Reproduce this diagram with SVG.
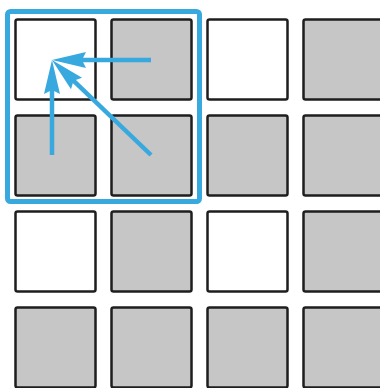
<svg xmlns="http://www.w3.org/2000/svg" width="380" height="388" viewBox="0 0 380 388">
<style>
.sq{stroke:#1e1e1e;stroke-width:2.5}
.w{fill:#ffffff}
.g{fill:#c6c6c6}
.frame{fill:none;stroke:#38a9df;stroke-width:5}
.arr{stroke:#38a9df;stroke-width:4.5;fill:none}
</style>
<defs>
<marker id="ah" markerUnits="userSpaceOnUse" markerWidth="40" markerHeight="20" refX="14" refY="0" orient="auto" overflow="visible">
<path d="M34,0 L0,-8 L4,0 L0,8 Z" fill="#38a9df"/>
</marker>
</defs>
<rect width="380" height="388" fill="#ffffff"/>
<g id="c00"><rect class="sq w" x="15.5" y="19.5" width="80" height="80" rx="2"/></g>
<g id="c01"><rect class="sq g" x="111.5" y="19.5" width="80" height="80" rx="2"/></g>
<g id="c02"><rect class="sq w" x="207.5" y="19.5" width="80" height="80" rx="2"/></g>
<g id="c03"><rect class="sq g" x="303.5" y="19.5" width="80" height="80" rx="2"/></g>
<g id="c10"><rect class="sq g" x="15.5" y="115.5" width="80" height="80" rx="2"/></g>
<g id="c11"><rect class="sq g" x="111.5" y="115.5" width="80" height="80" rx="2"/></g>
<g id="c12"><rect class="sq g" x="207.5" y="115.5" width="80" height="80" rx="2"/></g>
<g id="c13"><rect class="sq g" x="303.5" y="115.5" width="80" height="80" rx="2"/></g>
<g id="c20"><rect class="sq w" x="15.5" y="211.5" width="80" height="80" rx="2"/></g>
<g id="c21"><rect class="sq g" x="111.5" y="211.5" width="80" height="80" rx="2"/></g>
<g id="c22"><rect class="sq w" x="207.5" y="211.5" width="80" height="80" rx="2"/></g>
<g id="c23"><rect class="sq g" x="303.5" y="211.5" width="80" height="80" rx="2"/></g>
<g id="c30"><rect class="sq g" x="15.5" y="307.5" width="80" height="80" rx="2"/></g>
<g id="c31"><rect class="sq g" x="111.5" y="307.5" width="80" height="80" rx="2"/></g>
<g id="c32"><rect class="sq g" x="207.5" y="307.5" width="80" height="80" rx="2"/></g>
<g id="c33"><rect class="sq g" x="303.5" y="307.5" width="80" height="80" rx="2"/></g>
<g id="window"><rect class="frame" x="7.5" y="11.5" width="192" height="190" rx="3"/></g>
<g id="connectors">
<line class="arr" x1="151" y1="60" x2="72" y2="60" marker-end="url(#ah)"/>
<line class="arr" x1="52" y1="155" x2="52" y2="80" marker-end="url(#ah)"/>
<line class="arr" x1="151" y1="155" x2="66.4" y2="73.85" marker-end="url(#ah)"/>
</g>
</svg>
